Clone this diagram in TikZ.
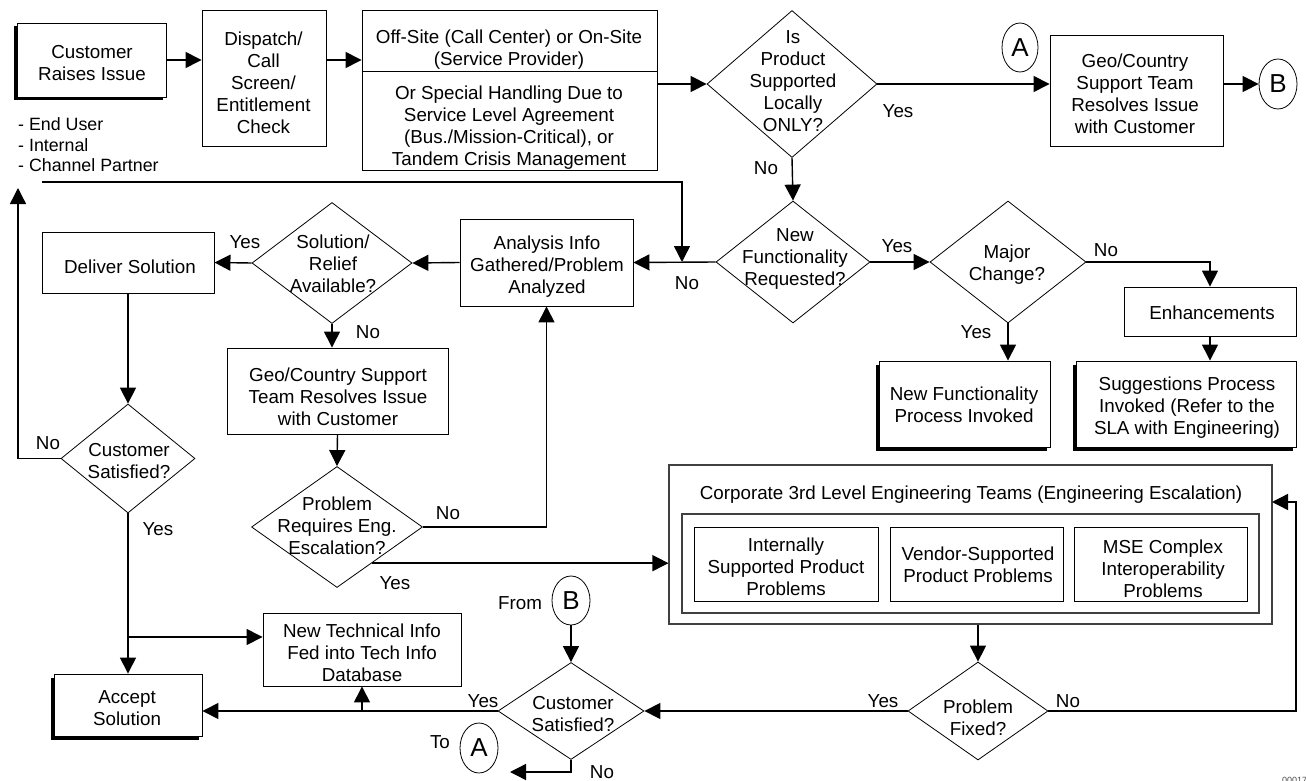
\documentclass[tikz,border=0pt]{standalone}
\usepackage{fontspec}
\setmainfont{Liberation Sans}
\usetikzlibrary{arrows.meta,shapes.geometric,shadows}
\newcommand\fz{\fontsize{18.8}{22}\selectfont}
\newcommand\mlc[1]{\begin{tabular}[t]{@{}c@{}}#1\end{tabular}}
\newcommand\mll[1]{\begin{tabular}[t]{@{}l@{}}#1\end{tabular}}
\begin{document}
\begin{tikzpicture}[x=1pt,y=-1pt,
  bx/.style 2 args={draw, line width=0.9pt, rectangle, fill=white, inner sep=0pt, minimum width=#1, minimum height=#2},
  shd/.style={general shadow={fill=black, shadow xshift=-3.5pt, shadow yshift=-3.5pt}},
  dm/.style 2 args={draw, line width=0.8pt, diamond, inner sep=0pt, minimum width=#1, minimum height=#2},
  circ/.style 2 args={draw, line width=0.8pt, ellipse, inner sep=0pt, minimum width=#1, minimum height=#2, font=\fontsize{26}{26}\selectfont},
  txt/.style={anchor=base, inner sep=0pt, font=\fz},
  ar/.style={line width=1.4pt, -{Triangle[length=16pt,width=16pt]}},
  ln/.style={line width=1.4pt}]
\useasboundingbox (0,0) rectangle (1306,781);
\clip (0,0) rectangle (1306,781);
\fill[white] (0,0) rectangle (1306,781);

% boxes
\node[bx={149pt}{74pt}, shd] (cust) at (91.5,60) {};
\node[bx={124pt}{136pt}] (disp) at (264,78) {};
\node[bx={295pt}{160pt}] (off) at (509.5,90) {};
\node[bx={173pt}{111pt}] (geo1) at (1136.5,90.5) {};
\node[bx={172pt}{61pt}] (del) at (128,262.5) {};
\node[bx={173pt}{87pt}] (ana) at (546.5,262.5) {};
\node[bx={221pt}{86pt}] (geo2) at (337.5,391) {};
\node[bx={172pt}{49pt}] (enh) at (1210,311.5) {};
\node[bx={220pt}{86pt}, shd] (sug) at (1186,404) {};
\node[bx={171pt}{86pt}, shd] (nfp) at (964.5,404) {};
\node[bx={148pt}{62pt}, shd] (acc) at (128,705) {};
\node[bx={198pt}{73pt}] (nt) at (362,649.5) {};
\node[bx={603pt}{159pt}, draw=black!75, line width=1.1pt] (corp) at (970.5,544.5) {};
\node[bx={577pt}{99pt}, draw=black!75, line width=1.1pt] (inner) at (970.5,563.5) {};
\node[bx={184pt}{74pt}] (intl) at (786,564) {};
\node[bx={173pt}{74pt}] (vend) at (976.5,564) {};
\node[bx={173pt}{74pt}] (mse) at (1160.5,564) {};
\draw[line width=0.9pt] (off.west |- 0,71) -- (off.east |- 0,71);

% diamonds
\node[dm={170pt}{147pt}] (isd) at (792,84) {};
\node[dm={154pt}{122pt}] (nf) at (793,262) {};
\node[dm={156pt}{122pt}] (maj) at (1008,262) {};
\node[dm={160pt}{121pt}] (sol) at (332,263) {};
\node[dm={171pt}{121pt}] (dPR) at (337,527) {};
\node[dm={134pt}{109pt}] (csl) at (128,458.5) {};
\node[dm={146pt}{97pt}] (csb) at (571,711) {};
\node[dm={140pt}{98pt}] (pf) at (978,711) {};

% connectors circles
\node[circ={36pt}{49pt}] (cA1) at (1020,47.5) {A};
\node[circ={38pt}{50pt}] (cB1) at (1278,84) {B};
\node[circ={38pt}{49pt}] (cB2) at (571,600.5) {B};
\node[circ={38pt}{50pt}] (cA2) at (479,748) {A};

% texts
\node[txt] (tcust) at (92,59) {\mlc{Customer\\Raises Issue}};
\node[txt, anchor=base west, font=\fontsize{17.8}{20.5}\selectfont] (tusers) at (18,131) {\mll{- End User\\- Internal\\- Channel Partner}};
\node[txt] (tdisp) at (263.5,45.5) {\mlc{Dispatch/\\Call\\Screen/\\Entitlement\\Check}};
\node[txt] (toff1) at (509,43.5) {\mlc{Off-Site (Call Center) or On-Site\\(Service Provider)}};
\node[txt] (toff2) at (509,99.5) {\mlc{Or Special Handling Due to\\Service Level Agreement\\(Bus./Mission-Critical), or\\Tandem Crisis Management}};
\node[txt] (tisd) at (793,43.5) {\mlc{Is\\Product\\Supported\\Locally\\ONLY?}};
\node[txt] (tgeo1) at (1135,68) {\mlc{Geo/Country\\Support Team\\Resolves Issue\\with Customer}};
\node[txt] (tdel) at (130,273) {Deliver Solution};
\node[txt] (tsol) at (333,248) {\mlc{Solution/\\Relief\\Available?}};
\node[txt] (tana) at (547,249) {\mlc{Analysis Info\\Gathered/Problem\\Analyzed}};
\node[txt] (tgeo2) at (338,381) {\mlc{Geo/Country Support\\Team Resolves Issue\\with Customer}};
\node[txt] (tdPR) at (337,510) {\mlc{Problem\\Requires Eng.\\Escalation?}};
\node[txt] (tnf) at (795,241) {\mlc{New\\Functionality\\Requested?}};
\node[txt] (tmaj) at (1007,258) {\mlc{Major\\Change?}};
\node[txt] (tenh) at (1212,319) {Enhancements};
\node[txt] (tsug) at (1187,390) {\mlc{Suggestions Process\\Invoked (Refer to the\\SLA with Engineering)}};
\node[txt] (tnfp) at (964,400) {\mlc{New Functionality\\Process Invoked}};
\node[txt] (tcsl) at (129,456) {\mlc{Customer\\Satisfied?}};
\node[txt] (tacc) at (127,703) {\mlc{Accept\\Solution}};
\node[txt] (tnt) at (362,637) {\mlc{New Technical Info\\Fed into Tech Info\\Database}};
\node[txt] (tcsb) at (573,709) {\mlc{Customer\\Satisfied?}};
\node[txt] (tcorp) at (971,499.5) {Corporate 3rd Level Engineering Teams (Engineering Escalation)};
\node[txt] (tintl) at (786,551) {\mlc{Internally\\Supported Product\\Problems}};
\node[txt] (tvend) at (978,560) {\mlc{Vendor-Supported\\Product Problems}};
\node[txt] (tmse) at (1163,553) {\mlc{MSE Complex\\Interoperability\\Problems}};
\node[txt] (tpf) at (978,713) {\mlc{Problem\\Fixed?}};

% labels
\node[txt] (l1) at (898,118) {Yes};
\node[txt] (l2) at (766,174) {No};
\node[txt] (l3) at (245,248) {Yes};
\node[txt] (l4) at (368,338) {No};
\node[txt] (l5) at (448,519) {No};
\node[txt] (l6) at (395,589) {Yes};
\node[txt] (l7) at (687,289) {No};
\node[txt] (l8) at (897,252) {Yes};
\node[txt] (l9) at (1106,256) {No};
\node[txt] (l10) at (976,338) {Yes};
\node[txt] (l11) at (48,449) {No};
\node[txt] (l12) at (158,535) {Yes};
\node[txt] (l13) at (483,707) {Yes};
\node[txt] (l14) at (602,778) {No};
\node[txt] (l15) at (520,609) {From};
\node[txt] (l16) at (440,748) {To};
\node[txt] (l17) at (883,707) {Yes};
\node[txt] (l18) at (1068,707) {No};
\node[anchor=base west, inner sep=0pt, font=\fontsize{9}{9}\selectfont, text=black!70] (ref) at (1282,783) {000172};

% coordinates
\coordinate (upend) at (18,188);
\coordinate (tl) at (42,182);
\coordinate (tj) at (682,262);
\coordinate (br) at (128,637);
\coordinate (nj) at (362,711);
\coordinate (toA) at (510,772);
\coordinate (pfr) at (1296,711);
\coordinate (cin) at (1272,502);

% connectors
\draw[ar] (cust.east) -- (cust.east -| disp.west);
\draw[ar] (disp.east |- cust.east) -- (cust.east -| off.west);
\draw[ar] (isd.west -| off.east) -- (isd.west);
\draw[ar] (isd.east) -- (isd.east -| geo1.west);
\draw[ar] (geo1.east |- cB1.west) -- (cB1.west);
\draw[ar] (isd.south) -- (nf.north);
\draw[ar] (nf.west) -- (ana.east);
\draw[ar] (tl) -| (tj);
\draw[ar] (ana.west) -- (sol.east);
\draw[ar] (sol.west) -- (del.east);
\draw[ar] (sol.south) -- (sol.south |- geo2.north);
\draw[ar] (geo2.south) -- (dPR.north);
\draw[ar] (dPR.east) -| (ana.south);
\draw[ar] (dPR.-46) -- (dPR.-46 -| corp.west);
\draw[ar] (del.south) -- (csl.north);
\draw[ar] (csl.west) -| (upend);
\draw[ar] (csl.south) -- (acc.north);
\draw[ar] (br) -- (br -| nt.west);
\draw[ar] (csb.west) -- (csb.west -| acc.east);
\draw[ar] (nj) -- (nt.south);
\draw[ar] (cB2.south) -- (csb.north);
\draw[ar] (csb.south) |- (toA);
\draw[ar] (pf.west) -- (csb.east);
\draw[ar] (pf.north |- corp.south) -- (pf.north);
\draw[ar] (pf.east) -- (pfr) |- (cin);
\draw[ar] (nf.east) -- (maj.west);
\draw[ar] (maj.east) -| (enh.north);
\draw[ar] (enh.south) -- (enh.south |- sug.north);
\draw[ar] (maj.south) -- (maj.south |- nfp.north);
\end{tikzpicture}
\end{document}
